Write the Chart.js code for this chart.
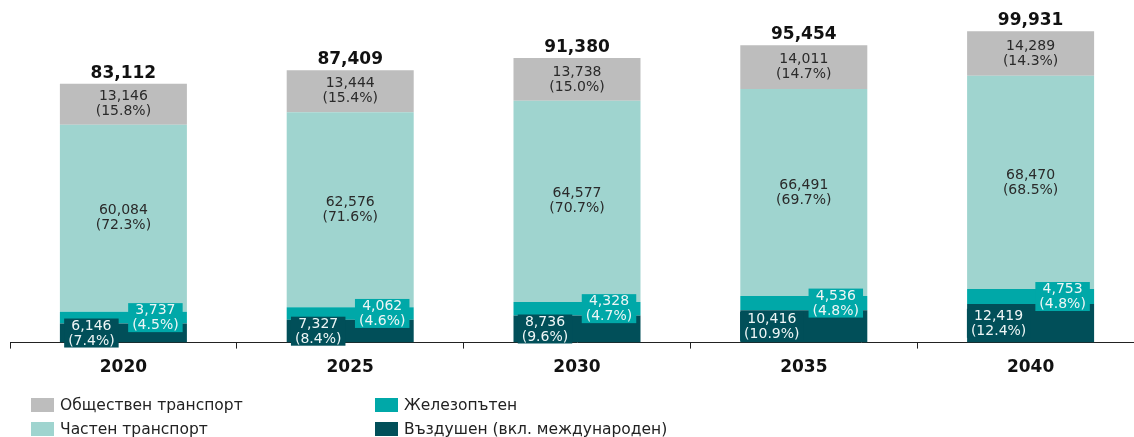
<!DOCTYPE html>
<html>
<head>
<meta charset="utf-8">
<script src="https://cdn.jsdelivr.net/npm/chart.js@4"></script>
<style>
    html, body { margin: 0; padding: 0; background: #fff; overflow: hidden; }
    body { width: 1134px; height: 437px; position: relative; font-family: "DejaVu Sans", sans-serif; }
    #wrap { position: absolute; left: 0; top: 0; width: 1144px; height: 437px; }
    .leg { position: absolute; font-size: 15.5px; color: #222; line-height: 18px; white-space: nowrap; }
    .leg span { position: absolute; left: 0; top: 2px; width: 23px; height: 14px; }
    .leg b { font-weight: normal; position: absolute; left: 29px; top: 0; }
</style>
</head>
<body>
<div id="wrap"><canvas id="transportChart"></canvas></div>
<div id="legend"></div>
<script>
const years = ['2020', '2025', '2030', '2035', '2040'];
const airValues = [6146, 7327, 8736, 10416, 12419];
const railValues = [3737, 4062, 4328, 4536, 4753];
const privateValues = [60084, 62576, 64577, 66491, 68470];
const publicValues = [13146, 13444, 13738, 14011, 14289];
const totals = [83112, 87409, 91380, 95454, 99931];
const airPct = ['7.4', '8.4', '9.6', '10.9', '12.4'];
const railPct = ['4.5', '4.6', '4.7', '4.8', '4.8'];
const privatePct = ['72.3', '71.6', '70.7', '69.7', '68.5'];
const publicPct = ['15.8', '15.4', '15.0', '14.7', '14.3'];

const colors = {
    air: '#014f59',
    rail: '#00a8a8',
    priv: '#9fd4cf',
    pub: '#bdbdbd'
};

const fmt = v => v.toLocaleString('en-US');

// labels drawn on top of the bars
const labelPlugin = {
    id: 'segmentLabels',
    afterDatasetsDraw(chart) {
        const ctx = chart.ctx;
        ctx.save();
        ctx.font = '14px "DejaVu Sans"';
        ctx.textAlign = 'center';
        ctx.textBaseline = 'middle';

        // centered labels (private + public)
        [2, 3].forEach(di => {
            const meta = chart.getDatasetMeta(di);
            const pct = di === 2 ? privatePct : publicPct;
            const vals = chart.data.datasets[di].data;
            meta.data.forEach((bar, i) => {
                const cy = (bar.y + bar.base) / 2;
                ctx.fillStyle = '#2a2a2a';
                ctx.fillText(fmt(vals[i]), bar.x, cy - 7.5);
                ctx.fillText('(' + pct[i] + '%)', bar.x, cy + 7.5);
            });
        });

        // boxed labels (air on the left, rail on the right)
        [0, 1].forEach(di => {
            const meta = chart.getDatasetMeta(di);
            const pct = di === 0 ? airPct : railPct;
            const vals = chart.data.datasets[di].data;
            const bg = chart.data.datasets[di].backgroundColor;
            meta.data.forEach((bar, i) => {
                const cy = (bar.y + bar.base) / 2;
                const cx = bar.x + (di === 0 ? -32 : 32);
                const l1 = fmt(vals[i]);
                const l2 = '(' + pct[i] + '%)';
                const w = Math.max(ctx.measureText(l1).width, ctx.measureText(l2).width) + 8;
                ctx.fillStyle = bg;
                ctx.fillRect(cx - w / 2, cy - 14.5, w, 29);
                ctx.fillStyle = '#eef6f6';
                ctx.fillText(l1, cx, cy - 7);
                ctx.fillText(l2, cx, cy + 8);
            });
        });

        // totals
        const topMeta = chart.getDatasetMeta(3);
        ctx.font = 'bold 17px "DejaVu Sans"';
        ctx.fillStyle = '#111';
        ctx.textBaseline = 'alphabetic';
        topMeta.data.forEach((bar, i) => {
            ctx.fillText(fmt(totals[i]), bar.x, bar.y - 6);
        });
        ctx.restore();
    }
};

const ctx = document.getElementById('transportChart').getContext('2d');
const transportChart = new Chart(ctx, {
    type: 'bar',
    data: {
        labels: years,
        datasets: [
            { label: 'Въздушен (вкл. международен)', data: airValues, backgroundColor: colors.air },
            { label: 'Железопътен', data: railValues, backgroundColor: colors.rail },
            { label: 'Частен транспорт', data: privateValues, backgroundColor: colors.priv },
            { label: 'Обществен транспорт', data: publicValues, backgroundColor: colors.pub }
        ]
    },
    options: {
        responsive: true,
        maintainAspectRatio: false,
        animation: false,
        datasets: {
            bar: { categoryPercentage: 1, barPercentage: 0.56, borderWidth: 0 }
        },
        layout: { padding: { left: 10, right: 0, top: 0, bottom: 50 } },
        plugins: {
            legend: { display: false },
            tooltip: { enabled: false }
        },
        scales: {
            x: {
                stacked: true,
                grid: {
                    offset: true,
                    drawOnChartArea: false,
                    drawTicks: true,
                    tickLength: 6,
                    color: '#222'
                },
                border: { display: true, color: '#222', width: 1 },
                ticks: {
                    padding: 9,
                    color: '#111',
                    font: { family: 'DejaVu Sans', size: 17, weight: 'bold' }
                }
            },
            y: {
                stacked: true,
                display: false,
                min: 0,
                max: 110000
            }
        }
    },
    plugins: [labelPlugin]
});

// legend in two columns
const legendItems = [
    { text: 'Обществен транспорт', color: colors.pub, x: 31, y: 396 },
    { text: 'Частен транспорт', color: colors.priv, x: 31, y: 420 },
    { text: 'Железопътен', color: colors.rail, x: 375, y: 396 },
    { text: 'Въздушен (вкл. международен)', color: colors.air, x: 375, y: 420 }
];
const legendEl = document.getElementById('legend');
legendItems.forEach(item => {
    const d = document.createElement('div');
    d.className = 'leg';
    d.style.left = item.x + 'px';
    d.style.top = item.y + 'px';
    d.innerHTML = '<span style="background:' + item.color + '"></span><b>' + item.text + '</b>';
    legendEl.appendChild(d);
});
</script>
</body>
</html>
